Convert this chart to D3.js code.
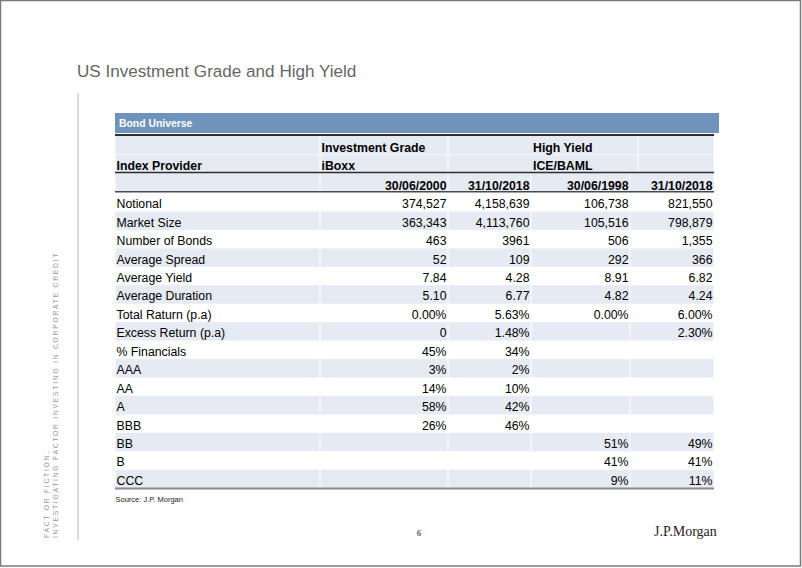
<!DOCTYPE html>
<html>
<head>
<meta charset="utf-8">
<script src="https://cdn.jsdelivr.net/npm/d3@7"></script>
<style>
  html, body { margin: 0; padding: 0; background: #fff; }
  svg { display: block; }
  text { font-family: "Liberation Sans", Arial, sans-serif; }
</style>
</head>
<body>
<svg id="chart" width="802" height="568"></svg>
<script>
// ---------- DATA ----------
const title = "US Investment Grade and High Yield";
const tableTitle = "Bond Universe";
const groupLabels = ["Investment Grade", "High Yield"];
const providerLabel = "Index Provider";
const providers = ["iBoxx", "ICE/BAML"];
const dates = ["30/06/2000", "31/10/2018", "30/06/1998", "31/10/2018"];
const rowLabels = ["Notional", "Market Size", "Number of Bonds", "Average Spread", "Average Yield",
  "Average Duration", "Total Raturn (p.a)", "Excess Return (p.a)", "% Financials",
  "AAA", "AA", "A", "BBB", "BB", "B", "CCC"];
const ig2000 = ["374,527", "363,343", "463", "52", "7.84", "5.10", "0.00%", "0", "45%", "3%", "14%", "58%", "26%", "", "", ""];
const ig2018 = ["4,158,639", "4,113,760", "3961", "109", "4.28", "6.77", "5.63%", "1.48%", "34%", "2%", "10%", "42%", "46%", "", "", ""];
const hy1998 = ["106,738", "105,516", "506", "292", "8.91", "4.82", "0.00%", "", "", "", "", "", "", "51%", "41%", "9%"];
const hy2018 = ["821,550", "798,879", "1,355", "366", "6.82", "4.24", "6.00%", "2.30%", "", "", "", "", "", "49%", "41%", "11%"];
const sourceText = "Source: J.P. Morgan";
const sideLine1 = "FACT OR FICTION:";
const sideLine2 = "INVESTIGATING FACTOR INVESTING IN CORPORATE CREDIT";
const pageNumber = "6";
const logoText = "J.P.Morgan";

// ---------- LAYOUT ----------
const svg = d3.select("#chart");
const colWidths = [205, 128, 83, 99, 84];
const tableX0 = 115;
const colEdges = [tableX0, ...d3.cumsum(colWidths).map(v => tableX0 + v)];
const tableX1 = colEdges[colEdges.length - 1];
const lightFill = "#e6eaf3";
const fs = 12.3;

// page frame
svg.append("rect").attr("x", 0.5).attr("y", 0.5).attr("width", 800).attr("height", 565.5)
  .attr("fill", "none").attr("stroke", "#7a7a7a").attr("stroke-width", 1.5);

// title
svg.append("text").attr("x", 77).attr("y", 76.5).attr("font-size", 17.1).attr("fill", "#666").text(title);

// vertical rule
svg.append("line").attr("x1", 78).attr("x2", 78).attr("y1", 93).attr("y2", 540)
  .attr("stroke", "#d0d0d0").attr("stroke-width", 1.5);

// side text (rotated)
[[sideLine1, 49.2], [sideLine2, 58.2]].forEach(([t, x]) => {
  svg.append("text").attr("transform", `translate(${x},538) rotate(-90)`)
    .attr("font-size", 6.8).attr("letter-spacing", 1.72).attr("fill", "#999").text(t);
});

// header bar
svg.append("rect").attr("x", tableX0).attr("y", 113).attr("width", 719 - tableX0).attr("height", 20)
  .attr("fill", "#7093bc");
svg.append("text").attr("x", 119).attr("y", 127).attr("font-size", 10.4).attr("font-weight", "bold")
  .attr("fill", "#fff").text(tableTitle);

// header rows
const headerY = d3.scaleBand().domain(["group", "provider", "date"]).range([136, 191]).paddingInner(0.03);
const groupSegs = [[colEdges[0], colEdges[1]], [colEdges[1], colEdges[2]], [colEdges[2], 638], [638, tableX1]];
["group", "provider"].forEach(r => {
  svg.append("g").selectAll("rect").data(groupSegs).join("rect")
    .attr("x", d => d[0] + 0.5).attr("width", d => d[1] - d[0] - 1)
    .attr("y", headerY(r)).attr("height", headerY.bandwidth()).attr("fill", lightFill);
});
svg.append("g").selectAll("rect").data(d3.pairs(colEdges)).join("rect")
  .attr("x", d => d[0] + 0.5).attr("width", d => d[1] - d[0] - 1)
  .attr("y", headerY("date")).attr("height", headerY.bandwidth()).attr("fill", lightFill);

const hdr = (x, y, t, anchor) => svg.append("text").attr("x", x).attr("y", y)
  .attr("font-size", fs).attr("font-weight", "bold").attr("fill", "#000")
  .attr("text-anchor", anchor || "start").text(t);
hdr(colEdges[1] + 1.5, 151.5, groupLabels[0]);
hdr(colEdges[3] + 2, 151.5, groupLabels[1]);
hdr(116.5, 170, providerLabel);
hdr(colEdges[1] + 1.5, 170, providers[0]);
hdr(colEdges[3] + 2, 170, providers[1]);
dates.forEach((d, i) => hdr(colEdges[i + 2] - 1.5, 189.5, d, "end"));

// header rules
[[135, 1.8, "#2e2e2e"], [172.5, 1.6, "#2e2e2e"], [191.8, 1.4, "#4a4a4a"]].forEach(([yy, w, c]) => {
  svg.append("line").attr("x1", tableX0).attr("x2", tableX1).attr("y1", yy).attr("y2", yy)
    .attr("stroke", c).attr("stroke-width", w);
});

// data rows
const y = d3.scaleBand().domain(rowLabels).range([193, 488.2]).padding(0);
const series = [ig2000, ig2018, hy1998, hy2018];
const rows = svg.append("g").selectAll("g").data(rowLabels).join("g")
  .attr("transform", d => `translate(0,${y(d)})`);
rows.each(function (label, i) {
  const g = d3.select(this);
  if (i % 2 === 1) {
    g.selectAll("rect").data(d3.pairs(colEdges)).join("rect")
      .attr("x", d => d[0] + 0.5).attr("width", d => d[1] - d[0] - 1)
      .attr("y", 0).attr("height", y.bandwidth()).attr("fill", lightFill);
  }
  g.append("text").attr("x", 116.5).attr("y", 15.2).attr("font-size", fs).attr("fill", "#000").text(label);
  series.forEach((s, j) => {
    if (s[i] === "") return;
    g.append("text").attr("x", colEdges[j + 2] - 1.5).attr("y", 15.2).attr("text-anchor", "end")
      .attr("font-size", fs).attr("fill", "#000").text(s[i]);
  });
});

// bottom rule
svg.append("line").attr("x1", tableX0).attr("x2", tableX1).attr("y1", 488.5).attr("y2", 488.5)
  .attr("stroke", "#8a8a8a").attr("stroke-width", 2);

// source
svg.append("text").attr("x", 115.5).attr("y", 502).attr("font-size", 7.5).attr("fill", "#222").text(sourceText);

// page number
svg.append("text").attr("x", 419).attr("y", 536).attr("text-anchor", "middle")
  .style("font-family", "'Liberation Serif', serif").attr("font-weight", "bold")
  .attr("font-size", 9).attr("fill", "#666").text(pageNumber);

// logo
svg.append("text").attr("x", 654).attr("y", 535.5).style("font-family", "'Liberation Serif', serif")
  .attr("font-size", 14).attr("fill", "#2a211c").text(logoText);
</script>
</body>
</html>
